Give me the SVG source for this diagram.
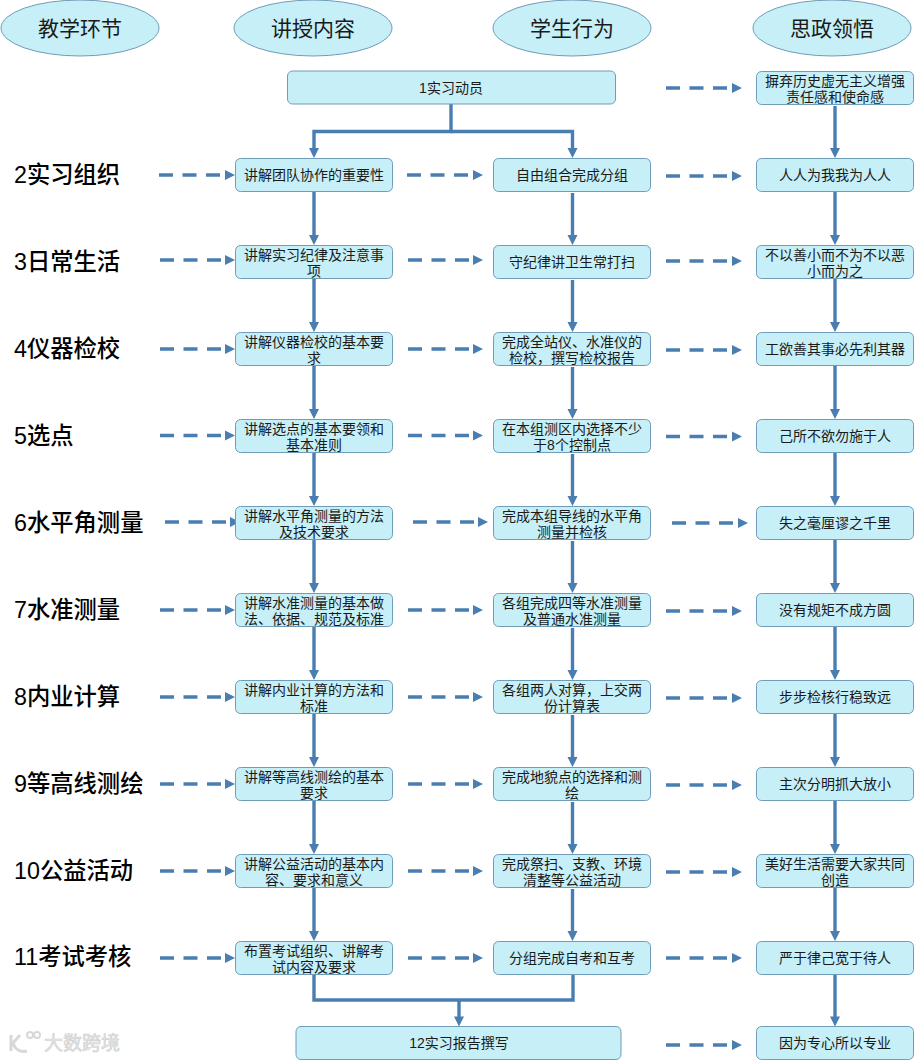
<svg xmlns="http://www.w3.org/2000/svg" width="914" height="1060" viewBox="0 0 914 1060">
<style>
text{font-family:"Liberation Sans","Noto Sans CJK SC",sans-serif;fill:#1a1a1a;text-anchor:middle}
.b{fill:#c6eff8;stroke:#6f9cb8;stroke-width:1}
.t{font-size:14px}
.h{font-size:21px}
.l{font-size:23.300px;text-anchor:start;font-weight:500;fill:#000}
.s{fill:none;stroke:#4a7eb0;stroke-width:3.400}
.d{fill:none;stroke:#4a7eb0;stroke-width:3.400;stroke-dasharray:14 9.500}
.a{fill:#4a7eb0}
</style>
<rect width="914" height="1060" fill="#fff"/>
<g id="connectors">
<path class="s" d="M451 104V131.500H314V150"/><path class="s" d="M451 131.500H572.500V150"/>
<path class="a" d="M309 148h10l-5 10zM567.500 148h10l-5 10z"/>
<path class="s" d="M314 191V237M314 278V324M314 365V411M314 452V498M314 539V585M314 626V672M314 713V759M314 800V846M314 887V933"/>
<path class="a" d="M309 235h10l-5 10zM309 322h10l-5 10zM309 409h10l-5 10zM309 496h10l-5 10zM309 583h10l-5 10zM309 670h10l-5 10zM309 757h10l-5 10zM309 844h10l-5 10zM309 931h10l-5 10z"/>
<path class="s" d="M572.500 193V237M572.500 280V324M572.500 367V411M572.500 454V498M572.500 541V585M572.500 628V672M572.500 715V759M572.500 802V846M572.500 889V933"/>
<path class="a" d="M567.500 235h10l-5 10zM567.500 322h10l-5 10zM567.500 409h10l-5 10zM567.500 496h10l-5 10zM567.500 583h10l-5 10zM567.500 670h10l-5 10zM567.500 757h10l-5 10zM567.500 844h10l-5 10zM567.500 931h10l-5 10z"/>
<path class="s" d="M835 106V150M835 190V237M835 279V324M835 366V411M835 453V498M835 540V585M835 627V672M835 714V759M835 801V846M835 888V933M835 974V1018"/>
<path class="a" d="M830 148h10l-5 10zM830 235h10l-5 10zM830 322h10l-5 10zM830 409h10l-5 10zM830 496h10l-5 10zM830 583h10l-5 10zM830 670h10l-5 10zM830 757h10l-5 10zM830 844h10l-5 10zM830 931h10l-5 10zM830 1016.500h10l-5 10z"/>
<path class="s" d="M314 974V1000H573V974M459 1000V1018"/>
<path class="a" d="M454 1016.500h10l-5 10z"/>
<g class="d">
<path d="M159 175H225M407 175H473M666 176H732"/>
<path d="M160 260H225M408 260H473M666 261H732"/>
<path d="M160 349H225M408 349H473M666 350H732"/>
<path d="M160 435.500H225M408 435.500H473M666 436.500H732"/>
<path d="M165 522H230M413 522H478M672 523H738"/>
<path d="M160 610H225M408 610H473M666 611H732"/>
<path d="M160 697H225M408 697H473M666 698H732"/>
<path d="M160 784H225M408 784H473M666 785H732"/>
<path d="M160 871H225M408 871H473M666 872H732"/>
<path d="M160 958H225M408 958H473M666 958H732"/>
<path d="M666 88H732M666 1045H732"/>
</g>
<path class="a" d="M225 170l10 5-10 5zM473 170l10 5-10 5zM732 171l10 5-10 5zM225 255l10 5-10 5zM473 255l10 5-10 5zM732 256l10 5-10 5zM225 344l10 5-10 5zM473 344l10 5-10 5zM732 345l10 5-10 5zM225 430.500l10 5-10 5zM473 430.500l10 5-10 5zM732 431.500l10 5-10 5zM230 517l10 5-10 5zM478 517l10 5-10 5zM738 518l10 5-10 5zM225 605l10 5-10 5zM473 605l10 5-10 5zM732 606l10 5-10 5zM225 692l10 5-10 5zM473 692l10 5-10 5zM732 693l10 5-10 5zM225 779l10 5-10 5zM473 779l10 5-10 5zM732 780l10 5-10 5zM225 866l10 5-10 5zM473 866l10 5-10 5zM732 867l10 5-10 5zM225 953l10 5-10 5zM473 953l10 5-10 5zM732 953l10 5-10 5zM732 83l10 5-10 5zM732 1040l10 5-10 5z"/>
</g>
<g id="h1"><ellipse class="b" cx="80" cy="28" rx="79" ry="28"/><text class="h" x="80" y="36">教学环节</text></g>
<g id="h2"><ellipse class="b" cx="313" cy="28" rx="79" ry="28"/><text class="h" x="313" y="36">讲授内容</text></g>
<g id="h3"><ellipse class="b" cx="572" cy="28" rx="79" ry="28"/><text class="h" x="572" y="36">学生行为</text></g>
<g id="h4"><ellipse class="b" cx="832" cy="28" rx="79" ry="28"/><text class="h" x="832" y="36">思政领悟</text></g>
<g id="labels">
<text class="l" x="14" y="182.500">2实习组织</text><text class="l" x="14" y="269.500">3日常生活</text><text class="l" x="14" y="356.500">4仪器检校</text><text class="l" x="14" y="443.500">5选点</text><text class="l" x="14" y="530.500">6水平角测量</text><text class="l" x="14" y="617.500">7水准测量</text><text class="l" x="14" y="704.500">8内业计算</text><text class="l" x="14" y="791.500">9等高线测绘</text><text class="l" x="14" y="878.500">10公益活动</text><text class="l" x="14" y="965">11考试考核</text>
</g>
<g id="n1"><rect class="b" x="287.500" y="71" width="328" height="33" rx="5"/><text class="t" x="451" y="93">1实习动员</text></g>
<g id="n12"><rect class="b" x="296" y="1026.500" width="325" height="33" rx="5"/><text class="t" x="459" y="1048">12实习报告撰写</text></g>
<g id="c2r2"><rect class="b" x="235.500" y="158.500" width="157" height="33" rx="5"/><text class="t" x="314" y="180">讲解团队协作的重要性</text></g>
<g id="c2r3"><rect class="b" x="235.500" y="245.500" width="157" height="33" rx="5"/><text class="t" x="314" y="259.500">讲解实习纪律及注意事</text><text class="t" x="314" y="276">项</text></g>
<g id="c2r4"><rect class="b" x="235.500" y="332.500" width="157" height="33" rx="5"/><text class="t" x="314" y="346.500">讲解仪器检校的基本要</text><text class="t" x="314" y="363">求</text></g>
<g id="c2r5"><rect class="b" x="235.500" y="419.500" width="157" height="33" rx="5"/><text class="t" x="314" y="433.500">讲解选点的基本要领和</text><text class="t" x="314" y="450">基本准则</text></g>
<g id="c2r6"><rect class="b" x="235.500" y="506.500" width="157" height="33" rx="5"/><text class="t" x="314" y="520.500">讲解水平角测量的方法</text><text class="t" x="314" y="537">及技术要求</text></g>
<g id="c2r7"><rect class="b" x="235.500" y="593.500" width="157" height="33" rx="5"/><text class="t" x="314" y="607.500">讲解水准测量的基本做</text><text class="t" x="314" y="624">法、依据、规范及标准</text></g>
<g id="c2r8"><rect class="b" x="235.500" y="680.500" width="157" height="33" rx="5"/><text class="t" x="314" y="694.500">讲解内业计算的方法和</text><text class="t" x="314" y="711">标准</text></g>
<g id="c2r9"><rect class="b" x="235.500" y="767.500" width="157" height="33" rx="5"/><text class="t" x="314" y="781.500">讲解等高线测绘的基本</text><text class="t" x="314" y="798">要求</text></g>
<g id="c2r10"><rect class="b" x="235.500" y="854.500" width="157" height="33" rx="5"/><text class="t" x="314" y="868.500">讲解公益活动的基本内</text><text class="t" x="314" y="885">容、要求和意义</text></g>
<g id="c2r11"><rect class="b" x="235.500" y="941.500" width="157" height="33" rx="5"/><text class="t" x="314" y="955.500">布置考试组织、讲解考</text><text class="t" x="314" y="972">试内容及要求</text></g>
<g id="c3r2"><rect class="b" x="493.500" y="158.500" width="157" height="33" rx="5"/><text class="t" x="572" y="180">自由组合完成分组</text></g>
<g id="c3r3"><rect class="b" x="493.500" y="245.500" width="157" height="33" rx="5"/><text class="t" x="572" y="267">守纪律讲卫生常打扫</text></g>
<g id="c3r4"><rect class="b" x="493.500" y="332.500" width="157" height="33" rx="5"/><text class="t" x="572" y="346.500">完成全站仪、水准仪的</text><text class="t" x="572" y="363">检校，撰写检校报告</text></g>
<g id="c3r5"><rect class="b" x="493.500" y="419.500" width="157" height="33" rx="5"/><text class="t" x="572" y="433.500">在本组测区内选择不少</text><text class="t" x="572" y="450">于8个控制点</text></g>
<g id="c3r6"><rect class="b" x="493.500" y="506.500" width="157" height="33" rx="5"/><text class="t" x="572" y="520.500">完成本组导线的水平角</text><text class="t" x="572" y="537">测量并检核</text></g>
<g id="c3r7"><rect class="b" x="493.500" y="593.500" width="157" height="33" rx="5"/><text class="t" x="572" y="607.500">各组完成四等水准测量</text><text class="t" x="572" y="624">及普通水准测量</text></g>
<g id="c3r8"><rect class="b" x="493.500" y="680.500" width="157" height="33" rx="5"/><text class="t" x="572" y="694.500">各组两人对算，上交两</text><text class="t" x="572" y="711">份计算表</text></g>
<g id="c3r9"><rect class="b" x="493.500" y="767.500" width="157" height="33" rx="5"/><text class="t" x="572" y="781.500">完成地貌点的选择和测</text><text class="t" x="572" y="798">绘</text></g>
<g id="c3r10"><rect class="b" x="493.500" y="854.500" width="157" height="33" rx="5"/><text class="t" x="572" y="868.500">完成祭扫、支教、环境</text><text class="t" x="572" y="885">清整等公益活动</text></g>
<g id="c3r11"><rect class="b" x="493.500" y="941.500" width="157" height="33" rx="5"/><text class="t" x="572" y="963">分组完成自考和互考</text></g>
<g id="c4r1"><rect class="b" x="756.500" y="71.500" width="157" height="33" rx="5"/><text class="t" x="835" y="85.500">摒弃历史虚无主义增强</text><text class="t" x="835" y="102">责任感和使命感</text></g>
<g id="c4r2"><rect class="b" x="756.500" y="158.500" width="157" height="33" rx="5"/><text class="t" x="835" y="180">人人为我我为人人</text></g>
<g id="c4r3"><rect class="b" x="756.500" y="245.500" width="157" height="33" rx="5"/><text class="t" x="835" y="259.500">不以善小而不为不以恶</text><text class="t" x="835" y="276">小而为之</text></g>
<g id="c4r4"><rect class="b" x="756.500" y="332.500" width="157" height="33" rx="5"/><text class="t" x="835" y="354">工欲善其事必先利其器</text></g>
<g id="c4r5"><rect class="b" x="756.500" y="419.500" width="157" height="33" rx="5"/><text class="t" x="835" y="441">己所不欲勿施于人</text></g>
<g id="c4r6"><rect class="b" x="756.500" y="506.500" width="157" height="33" rx="5"/><text class="t" x="835" y="528">失之毫厘谬之千里</text></g>
<g id="c4r7"><rect class="b" x="756.500" y="593.500" width="157" height="33" rx="5"/><text class="t" x="835" y="615">没有规矩不成方圆</text></g>
<g id="c4r8"><rect class="b" x="756.500" y="680.500" width="157" height="33" rx="5"/><text class="t" x="835" y="702">步步检核行稳致远</text></g>
<g id="c4r9"><rect class="b" x="756.500" y="767.500" width="157" height="33" rx="5"/><text class="t" x="835" y="789">主次分明抓大放小</text></g>
<g id="c4r10"><rect class="b" x="756.500" y="854.500" width="157" height="33" rx="5"/><text class="t" x="835" y="868.500">美好生活需要大家共同</text><text class="t" x="835" y="885">创造</text></g>
<g id="c4r11"><rect class="b" x="756.500" y="941.500" width="157" height="33" rx="5"/><text class="t" x="835" y="963">严于律己宽于待人</text></g>
<g id="c4r12"><rect class="b" x="756.500" y="1026.500" width="157" height="33" rx="5"/><text class="t" x="835" y="1048">因为专心所以专业</text></g>
<g id="watermark"><path d="M11 1035v16M20 1035l-7 8c2 6 7 10 14 8" fill="none" stroke="#d8d8d8" stroke-width="3"/><circle cx="30" cy="1035" r="3" fill="none" stroke="#d8d8d8" stroke-width="2"/><circle cx="37" cy="1035" r="3" fill="none" stroke="#d8d8d8" stroke-width="2"/><text x="82" y="1050" style="font-size:19px;fill:#e6e6e6;stroke:#cfcfcf;stroke-width:.6">大数跨境</text></g>
</svg>
